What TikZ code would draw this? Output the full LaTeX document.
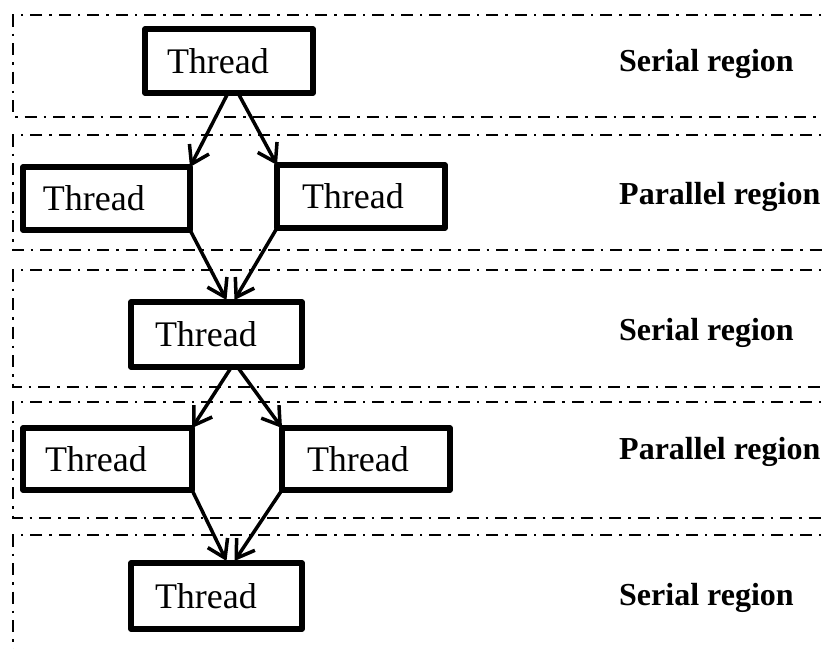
\documentclass[tikz,border=0pt]{standalone}
\usepackage{fontspec}
\setmainfont{Liberation Serif}
\usetikzlibrary{arrows.meta}
\tikzset{
  thr/.style={draw, line width=5.5pt, line join=round, inner sep=0pt, outer sep=0pt,
    font=\fontsize{36}{40}\selectfont},
  region/.style={line width=2.4pt, dash pattern=on 12pt off 7pt on 2.5pt off 7pt},
  flow/.style={line width=3.5pt, -{Straight Barb[length=17pt,width=22pt,line width=3.5pt]}},
  lab/.style={anchor=base west, inner sep=0pt, font=\fontsize{32}{36}\selectfont\bfseries}
}
\newcommand{\thr}[2]{\makebox[#1][l]{\hspace{#2}Thread}}
\begin{document}
\begin{tikzpicture}[x=1pt,y=-1pt]
\useasboundingbox (0,0) rectangle (822,648);
\clip (0,0) rectangle (822,648);
% regions
\draw[region] (840,15) -- (13,15) -- (13,117) -- (840,117);
\draw[region] (840,135) -- (13,135) -- (13,250) -- (840,250);
\draw[region] (840,270) -- (13,270) -- (13,387) -- (840,387);
\draw[region] (840,402) -- (13,402) -- (13,518) -- (840,518);
\draw[region] (840,535) -- (13,535) -- (13,670);
% labels
\node[lab] (l1) at (619,71) {Serial region};
\node[lab] (l2) at (619,204) {Parallel region};
\node[lab] (l3) at (619,340) {Serial region};
\node[lab] (l4) at (619,459) {Parallel region};
\node[lab] (l5) at (619,605) {Serial region};
% threads
\node[thr, minimum width=168pt, minimum height=64pt] (n1) at (229,61) {\thr{168pt}{22pt}};
\node[thr, minimum width=167pt, minimum height=63pt] (p1l) at (106.5,198.5) {\thr{167pt}{20pt}};
\node[thr, minimum width=168pt, minimum height=63pt] (p1r) at (361,196.5) {\thr{168pt}{25pt}};
\node[thr, minimum width=171pt, minimum height=65pt] (mid) at (216.5,334.5) {\thr{171pt}{24pt}};
\node[thr, minimum width=169pt, minimum height=62pt] (p2l) at (107.5,459) {\thr{169pt}{22pt}};
\node[thr, minimum width=168pt, minimum height=62pt] (p2r) at (366,459) {\thr{168pt}{25pt}};
\node[thr, minimum width=171pt, minimum height=66pt] (bot) at (216.5,596) {\thr{171pt}{24pt}};
% arrows
\draw[flow] ([xshift=-1pt]n1.south) -- (p1l.north east);
\draw[flow] ([xshift=9pt]n1.south) -- (p1r.north west);
\draw[flow] (p1l.south east) -- ([xshift=10pt,yshift=2pt]mid.north);
\draw[flow] (p1r.south west) -- ([xshift=18pt,yshift=2pt]mid.north);
\draw[flow] ([xshift=15pt]mid.south) -- (p2l.north east);
\draw[flow] ([xshift=21pt]mid.south) -- (p2r.north west);
\draw[flow] (p2l.south east) -- ([xshift=10pt,yshift=2pt]bot.north);
\draw[flow] (p2r.south west) -- ([xshift=18pt,yshift=2pt]bot.north);
\end{tikzpicture}
\end{document}
